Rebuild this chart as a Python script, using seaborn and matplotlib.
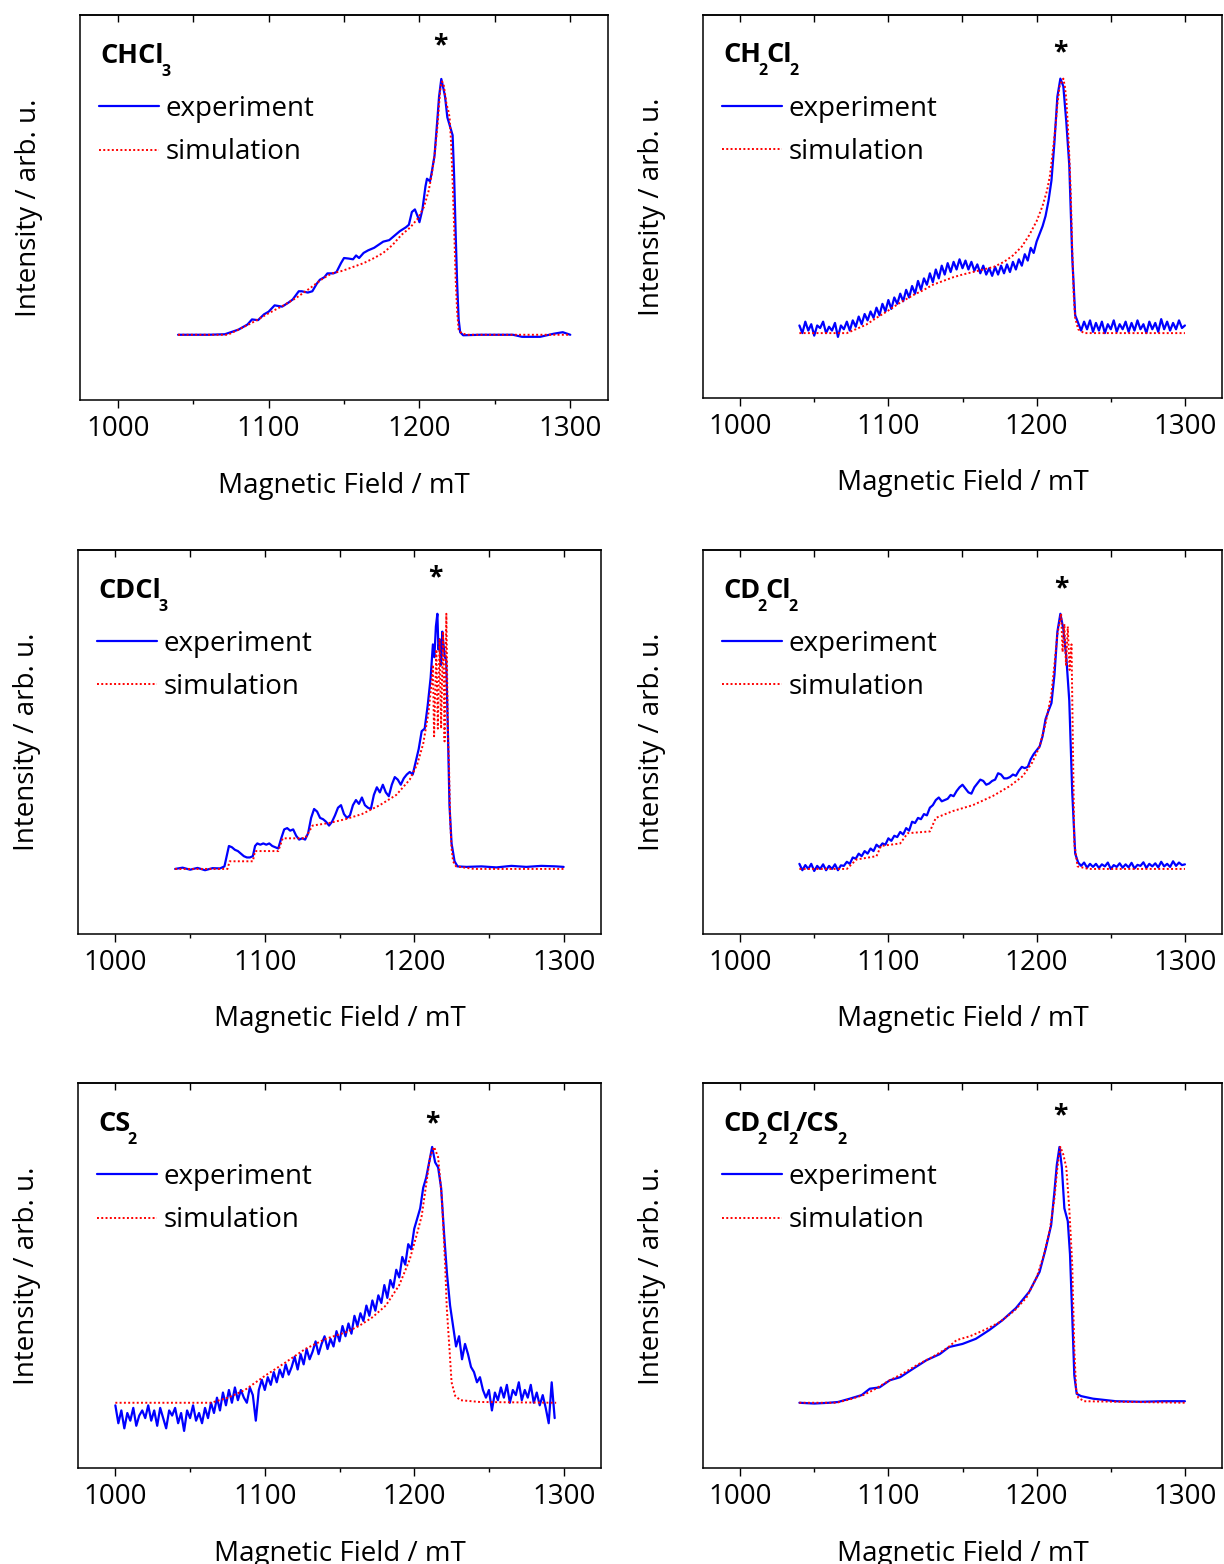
import numpy as np
import matplotlib
matplotlib.use("Agg")
import matplotlib.pyplot as plt
import matplotlib.transforms as mtransforms
import seaborn as sns

# ---------------- data (intensity normalised to peak = 1) ----------------
# CHCl3
chcl3_exp_x = [1040, 1060, 1071, 1080, 1086, 1089, 1093, 1097, 1100, 1104, 1109, 1113, 1116, 1120, 1122,
               1126, 1129, 1132, 1134, 1137, 1139, 1143, 1145, 1148, 1150, 1153, 1156, 1158, 1160, 1163,
               1166, 1170, 1173, 1176, 1180, 1183, 1187, 1191, 1193, 1195, 1197, 1199, 1200, 1202, 1204,
               1205, 1207, 1208, 1210, 1212, 1213, 1214.5, 1216, 1217, 1218.5, 1219.5, 1221, 1222, 1223,
               1224, 1225, 1226, 1227, 1229, 1240, 1250, 1262, 1268, 1280, 1289, 1295, 1300]
chcl3_exp_y = [0.0, 0.0, 0.002, 0.02, 0.04, 0.06, 0.057, 0.08, 0.09, 0.115, 0.11, 0.125, 0.138, 0.17, 0.17,
               0.165, 0.17, 0.2, 0.215, 0.225, 0.24, 0.24, 0.245, 0.28, 0.3, 0.298, 0.295, 0.31, 0.3, 0.32,
               0.33, 0.34, 0.352, 0.364, 0.37, 0.385, 0.405, 0.42, 0.43, 0.48, 0.49, 0.46, 0.44, 0.49, 0.58,
               0.61, 0.6, 0.63, 0.7, 0.85, 0.93, 1.0, 0.96, 0.93, 0.85, 0.83, 0.8, 0.78, 0.62,
               0.4, 0.2, 0.06, 0.01, -0.002, 0.0, 0.0, 0.0, -0.008, -0.008, 0.004, 0.01, 0.0]
chcl3_sim_x = [1040, 1073, 1082, 1090, 1100, 1110, 1118, 1127, 1136, 1142, 1149, 1156, 1163, 1170, 1176,
               1182, 1188, 1194, 1199, 1203, 1206, 1208, 1210, 1212, 1213, 1214, 1215, 1216, 1217, 1218,
               1219, 1220, 1221, 1222, 1223, 1224, 1225, 1226, 1228, 1232, 1300]
chcl3_sim_y = [0, 0, 0.026, 0.05, 0.084, 0.115, 0.143, 0.18, 0.22, 0.24, 0.25, 0.265, 0.28, 0.3, 0.32,
               0.35, 0.39, 0.42, 0.455, 0.5, 0.56, 0.62, 0.7, 0.82, 0.9, 0.97, 0.99, 0.98, 0.94, 0.9,
               0.88, 0.85, 0.75, 0.6, 0.42, 0.22, 0.09, 0.02, 0.005, 0.0, 0.0]

# CH2Cl2 experiment, sampled every 2 mT from 1040 to 1300
ch2cl2_exp_x = np.arange(1040, 1301, 2)
ch2cl2_exp_y = [0.03, 0.0, 0.045, 0.01, 0.035, -0.01, 0.03, 0.02, 0.045, 0.0,          # 1040
                0.025, 0.01, 0.04, -0.015, 0.03, 0.015, 0.045, 0.01, 0.05, 0.025,      # 1060
                0.065, 0.035, 0.075, 0.05, 0.085, 0.06, 0.1, 0.07, 0.115, 0.085,       # 1080
                0.13, 0.095, 0.14, 0.115, 0.155, 0.125, 0.17, 0.14, 0.185, 0.155,      # 1100
                0.205, 0.17, 0.215, 0.19, 0.235, 0.2, 0.25, 0.215, 0.265, 0.23,        # 1120
                0.275, 0.24, 0.28, 0.25, 0.29, 0.255, 0.285, 0.25, 0.28, 0.245,        # 1140
                0.27, 0.235, 0.265, 0.23, 0.255, 0.225, 0.26, 0.23, 0.265, 0.235,      # 1160
                0.27, 0.24, 0.28, 0.25, 0.29, 0.265, 0.31, 0.285, 0.335, 0.315,        # 1180
                0.36, 0.39, 0.42, 0.46, 0.52, 0.6, 0.75, 0.93, 1.0, 0.97,              # 1200
                0.83, 0.66, 0.3, 0.07, 0.04, 0.01, 0.045, 0.015, 0.05, 0.005,          # 1220
                0.04, 0.01, 0.045, 0.0, 0.035, 0.015, 0.05, 0.005, 0.035, 0.015,       # 1240
                0.045, 0.005, 0.04, 0.01, 0.05, 0.015, 0.035, 0.0, 0.045, 0.015,       # 1260
                0.04, 0.005, 0.055, 0.015, 0.045, 0.01, 0.04, 0.015, 0.05, 0.02,       # 1280
                0.03]                                                                  # 1300
ch2cl2_sim_x = [1040, 1072, 1078, 1085, 1092, 1099, 1108, 1117, 1124, 1130, 1137, 1144, 1150, 1157, 1164,
                1171, 1178, 1184, 1190, 1195, 1200, 1204, 1207, 1209, 1211, 1212.5, 1214, 1215.5, 1217,
                1218, 1219, 1220, 1221, 1222, 1223, 1224, 1225, 1226, 1228, 1232, 1300]
ch2cl2_sim_y = [0, 0, 0.015, 0.033, 0.06, 0.085, 0.12, 0.15, 0.17, 0.19, 0.205, 0.22, 0.23, 0.24, 0.25,
                0.26, 0.28, 0.305, 0.34, 0.385, 0.44, 0.5, 0.56, 0.62, 0.72, 0.8, 0.9, 0.97, 0.99,
                1.0, 0.97, 0.92, 0.82, 0.7, 0.55, 0.33, 0.15, 0.06, 0.015, 0.0, 0.0]

# CDCl3
cdcl3_exp_x = [1040, 1045, 1050, 1055, 1060, 1065, 1070, 1073, 1074.5, 1076, 1078, 1080, 1082, 1084, 1086,
               1088, 1090, 1092, 1093.5, 1095, 1097, 1099, 1101, 1103, 1105, 1107, 1109, 1111, 1113, 1115,
               1117, 1119, 1121, 1123, 1125, 1127, 1129, 1131, 1133, 1135, 1137, 1139, 1141, 1143, 1145,
               1147, 1149, 1151, 1153, 1155, 1157, 1159, 1161, 1163, 1165, 1167, 1169, 1171, 1173, 1175,
               1177, 1179, 1181, 1183, 1185, 1187, 1189, 1191, 1193, 1195, 1197, 1199, 1201, 1203, 1205,
               1207, 1209, 1211, 1212.5, 1213.5, 1214.5, 1215.5, 1216.2, 1217, 1218, 1218.8, 1219.6,
               1220.5, 1221.4, 1222.5, 1223.6, 1225, 1227, 1229, 1235, 1245, 1255, 1265, 1275, 1285,
               1295, 1300]
cdcl3_exp_y = [0.0, 0.005, -0.003, 0.004, -0.005, 0.003, 0.002, 0.01, 0.05, 0.09, 0.085, 0.075, 0.07, 0.06,
               0.05, 0.045, 0.045, 0.05, 0.09, 0.1, 0.095, 0.1, 0.095, 0.1, 0.09, 0.085, 0.08, 0.12, 0.155,
               0.16, 0.15, 0.155, 0.13, 0.115, 0.12, 0.115, 0.14, 0.2, 0.235, 0.225, 0.2, 0.195, 0.185,
               0.17, 0.185, 0.21, 0.24, 0.25, 0.215, 0.2, 0.21, 0.25, 0.27, 0.255, 0.28, 0.25, 0.24,
               0.235, 0.29, 0.32, 0.3, 0.33, 0.3, 0.285, 0.33, 0.36, 0.35, 0.33, 0.355, 0.37, 0.38,
               0.37, 0.42, 0.47, 0.54, 0.55, 0.64, 0.75, 0.88, 0.83, 0.95, 1.0, 0.86, 0.9, 0.8, 0.93,
               0.88, 0.83, 0.82, 0.55, 0.25, 0.1, 0.03, 0.01, 0.008, 0.01, 0.006, 0.012, 0.008, 0.012,
               0.01, 0.008]
cdcl3_sim_x = [1040, 1075, 1076.5, 1092, 1093.5, 1109, 1112, 1127, 1132, 1143, 1154, 1165, 1177, 1188,
               1197, 1202, 1206, 1209.5, 1211.5, 1212.5, 1213.3, 1214.8, 1215.8, 1217, 1218, 1219.3,
               1220.3, 1221.5, 1222.5, 1223.3, 1224, 1225, 1226, 1228, 1240, 1300]
cdcl3_sim_y = [0, 0, 0.03, 0.03, 0.07, 0.07, 0.12, 0.12, 0.17, 0.18, 0.195, 0.215, 0.25, 0.29,
               0.35, 0.41, 0.49, 0.61, 0.72, 0.8, 0.52, 0.86, 0.55, 0.9, 0.55, 0.93,
               0.5, 1.0, 0.55, 0.4, 0.2, 0.08, 0.03, 0.01, 0.0, 0.0]

# CD2Cl2 experiment, sampled every 2 mT from 1040 to 1300
cd2cl2_exp_x = np.arange(1040, 1301, 2)
cd2cl2_exp_y = [0.02, -0.005, 0.015, 0.0, 0.02, -0.008, 0.012, 0.0, 0.018, -0.005,             # 1040
                0.012, 0.0, 0.018, -0.005, 0.014, 0.012, 0.028, 0.02, 0.045, 0.04,             # 1060
                0.06, 0.05, 0.07, 0.06, 0.08, 0.07, 0.095, 0.085, 0.1, 0.095,                  # 1080
                0.12, 0.11, 0.13, 0.125, 0.145, 0.135, 0.16, 0.15, 0.185, 0.18,                # 1100
                0.2, 0.195, 0.215, 0.21, 0.24, 0.25, 0.27, 0.28, 0.265, 0.27,                  # 1120
                0.275, 0.29, 0.285, 0.305, 0.32, 0.33, 0.315, 0.3, 0.295, 0.32,                # 1140
                0.335, 0.35, 0.345, 0.33, 0.335, 0.345, 0.35, 0.375, 0.37, 0.355,              # 1160
                0.355, 0.36, 0.37, 0.365, 0.385, 0.4, 0.395, 0.4, 0.43, 0.45,                  # 1180
                0.465, 0.48, 0.52, 0.587, 0.62, 0.65, 0.76, 0.93, 1.0, 0.94,                   # 1200
                0.83, 0.66, 0.3, 0.06, 0.025, 0.012, 0.025, 0.005, 0.02, 0.008,                # 1220
                0.02, 0.004, 0.018, 0.01, 0.025, 0.0, 0.015, 0.008, 0.022, 0.005,              # 1240
                0.018, 0.006, 0.024, 0.002, 0.016, 0.012, 0.026, 0.004, 0.02, 0.01,            # 1260
                0.022, 0.006, 0.028, 0.01, 0.02, 0.008, 0.03, 0.012, 0.025, 0.015,             # 1280
                0.018]                                                                         # 1300
cd2cl2_sim_x = [1040, 1072, 1078.5, 1092, 1095, 1108, 1113, 1128, 1132, 1143.6, 1157, 1170.5, 1182,
                1190.7, 1197, 1202, 1206, 1209.8, 1212, 1214, 1216.5, 1217.5, 1218.7, 1219.8, 1221,
                1222.2, 1223.5, 1224.3, 1225.4, 1227.6, 1235, 1300]
cd2cl2_sim_y = [0, 0, 0.037, 0.05, 0.09, 0.1, 0.14, 0.147, 0.2, 0.227, 0.25, 0.286, 0.325,
                0.364, 0.417, 0.48, 0.57, 0.68, 0.8, 0.92, 1.0, 0.85, 0.96, 0.8, 0.95,
                0.78, 0.88, 0.55, 0.1, 0.01, 0.0, 0.0]

# CS2 experiment, sampled every 2 mT from 1000 to 1294
cs2_exp_x = np.arange(1000, 1295, 2)
cs2_exp_y = [-0.01, -0.08, -0.03, -0.1, -0.04, -0.07, -0.02, -0.09, -0.05, -0.03,      # 1000
             -0.06, -0.01, -0.07, -0.03, -0.09, -0.02, -0.06, -0.1, -0.03, -0.05,      # 1020
             -0.02, -0.08, -0.04, -0.11, -0.03, -0.06, -0.01, -0.07, -0.04, -0.08,     # 1040
             -0.02, -0.06, 0.0, -0.04, 0.02, -0.03, 0.04, -0.01, 0.05, 0.0,            # 1060
             0.06, 0.01, 0.05, 0.02, 0.0, 0.06, 0.03, -0.07, 0.05, 0.09,               # 1080
             0.05, 0.1, 0.07, 0.12, 0.08, 0.13, 0.1, 0.15, 0.11, 0.14,                 # 1100
             0.18, 0.13, 0.19, 0.15, 0.21, 0.17, 0.2, 0.24, 0.19, 0.23,                # 1120
             0.26, 0.21, 0.25, 0.22, 0.28, 0.24, 0.3, 0.26, 0.31, 0.27,                # 1140
             0.34, 0.3, 0.35, 0.32, 0.38, 0.34, 0.4, 0.36, 0.42, 0.39,                 # 1160
             0.46, 0.41, 0.48, 0.45, 0.52, 0.49, 0.57, 0.54, 0.62, 0.6,                # 1180
             0.68, 0.72, 0.76, 0.84, 0.88, 0.94, 1.0, 0.94, 0.92, 0.84,                # 1200
             0.66, 0.5, 0.38, 0.3, 0.22, 0.26, 0.17, 0.23, 0.19, 0.14,                 # 1220
             0.12, 0.08, 0.1, 0.05, 0.02, 0.05, -0.03, 0.04, 0.01, 0.06,               # 1240
             0.02, 0.07, 0.0, 0.05, 0.03, 0.08, 0.01, 0.05, 0.02, 0.07,                # 1260
             0.0, 0.04, -0.01, 0.03, -0.02, -0.08, 0.08, -0.06]                        # 1280
cs2_sim_x = [1000, 1064, 1075.5, 1086.7, 1100, 1113.7, 1127, 1140.8, 1154, 1163, 1172, 1181, 1190, 1197,
             1201.6, 1205, 1208.3, 1210.6, 1213.3, 1216, 1218.5, 1220.7, 1221.8, 1223.6, 1225, 1227.5,
             1231, 1244, 1295]
cs2_sim_y = [0, 0, 0.02, 0.05, 0.105, 0.157, 0.21, 0.25, 0.275, 0.3, 0.334, 0.38, 0.46, 0.56,
             0.655, 0.73, 0.865, 0.96, 1.0, 0.96, 0.8, 0.54, 0.37, 0.21, 0.08, 0.026,
             0.01, 0.003, 0.0]

# CD2Cl2/CS2
mix_exp_x = [1040, 1050, 1060, 1066, 1074, 1082, 1087.5, 1094, 1101, 1108, 1116.7, 1125.6, 1134.6, 1141,
             1150, 1159, 1168, 1177, 1186, 1195, 1202, 1206, 1209.8, 1212, 1213.6, 1215.4, 1217, 1218.7,
             1221, 1222.5, 1224, 1225.4, 1227, 1230, 1238, 1253.5, 1270, 1285, 1300]
mix_exp_y = [0, -0.003, 0.0, 0.003, 0.016, 0.03, 0.055, 0.06, 0.088, 0.1, 0.133, 0.166, 0.19, 0.218,
             0.23, 0.25, 0.284, 0.323, 0.37, 0.434, 0.512, 0.6, 0.695, 0.826, 0.93, 1.0, 0.92, 0.76,
             0.71, 0.58, 0.34, 0.107, 0.035, 0.026, 0.016, 0.006, 0.004, 0.006, 0.006]
mix_sim_x = [1040, 1065, 1075, 1083, 1090, 1100, 1110, 1120, 1130, 1140, 1146, 1155, 1165, 1175, 1185,
             1193, 1200, 1205, 1209, 1212, 1214, 1216, 1218, 1220, 1222, 1224, 1225.4, 1226.6, 1228,
             1232, 1300]
mix_sim_y = [0, 0, 0.015, 0.03, 0.05, 0.085, 0.115, 0.15, 0.18, 0.215, 0.245, 0.26, 0.285, 0.315, 0.36,
             0.41, 0.49, 0.58, 0.68, 0.8, 0.92, 1.0, 0.97, 0.92, 0.76, 0.54, 0.21, 0.055, 0.02,
             0.006, 0.0]

# formula pieces: (text, is_subscript)
titles = [
    [("CHCl", False), ("3", True)],
    [("CH", False), ("2", True), ("Cl", False), ("2", True)],
    [("CDCl", False), ("3", True)],
    [("CD", False), ("2", True), ("Cl", False), ("2", True)],
    [("CS", False), ("2", True)],
    [("CD", False), ("2", True), ("Cl", False), ("2", True), ("/CS", False), ("2", True)],
]
series = [
    (chcl3_exp_x, chcl3_exp_y, chcl3_sim_x, chcl3_sim_y),
    (ch2cl2_exp_x, ch2cl2_exp_y, ch2cl2_sim_x, ch2cl2_sim_y),
    (cdcl3_exp_x, cdcl3_exp_y, cdcl3_sim_x, cdcl3_sim_y),
    (cd2cl2_exp_x, cd2cl2_exp_y, cd2cl2_sim_x, cd2cl2_sim_y),
    (cs2_exp_x, cs2_exp_y, cs2_sim_x, cs2_sim_y),
    (mix_exp_x, mix_exp_y, mix_sim_x, mix_sim_y),
]

# ---------------- layout ----------------
W, H = 1224, 1564
# panel frames in pixels: left, top, right, bottom
frames = [(80, 15, 608, 400), (703, 15, 1222, 398),
          (78, 550, 601, 934), (703, 550, 1222, 934),
          (78, 1083, 601, 1468), (703, 1083, 1222, 1468)]
# asterisk marker (field, height) per panel
stars = [(1213.7, 1.1), (1216, 1.07), (1214.4, 1.112), (1216.7, 1.07), (1212.3, 1.062), (1216, 1.092)]

sns.set_style("white")
plt.rcParams['font.family'] = ['Open Sans', 'DejaVu Sans']
plt.rcParams['axes.edgecolor'] = 'black'
plt.rcParams['axes.linewidth'] = 1.1
plt.rcParams['xtick.color'] = 'black'
plt.rcParams['text.color'] = 'black'
plt.rcParams['axes.labelcolor'] = 'black'

FS = 20

fig = plt.figure(figsize=(W / 100, H / 100), dpi=100)
renderer = fig.canvas.get_renderer()


def draw_formula(ax, x, y, parts):
    # bold chemical formula with lowered subscripts, drawn piece by piece
    dx = 0.0
    for s, sub in parts:
        tr = mtransforms.offset_copy(ax.transAxes, fig=fig, x=dx, y=-13 if sub else 0, units='dots')
        t = ax.text(x, y, s, transform=tr, fontsize=11.5 if sub else 19.5, fontweight='bold',
                    ha='left', va='baseline')
        dx += t.get_window_extent(renderer=renderer).width - (1.5 if sub else 2.5)


for i, (l, t, r, b) in enumerate(frames):
    ax = fig.add_axes([l / W, 1 - b / H, (r - l) / W, (b - t) / H])
    ex, ey, sx, sy = series[i]
    sns.lineplot(x=ex, y=ey, ax=ax, color='#0000ff', lw=1.6, label='experiment',
                 sort=False, estimator=None)
    sns.lineplot(x=sx, y=sy, ax=ax, color='#ff0000', lw=1.4, ls=(0, (1, 1.2)), label='simulation',
                 sort=False, estimator=None)

    ax.set_xlim(975, 1325)
    ax.set_ylim(-0.255, 1.25)
    ax.set_xticks([1000, 1100, 1200, 1300])
    ax.set_xticks([1050, 1150, 1250], minor=True)
    ax.set_yticks([])
    ax.tick_params(axis='x', which='major', direction='out', length=5.8, width=1.0,
                   bottom=True, top=False, labelsize=FS, pad=4.8)
    ax.tick_params(axis='x', which='minor', direction='out', length=3, width=1.0, bottom=True, top=False)
    top = ax.secondary_xaxis('top')
    top.set_xticks([1000, 1100, 1200, 1300])
    top.set_xticks([1050, 1150, 1250], minor=True)
    top.tick_params(axis='x', which='both', direction='in', length=5, width=1.0, labeltop=False)
    top.spines['top'].set_linewidth(1.1)

    ax.set_xlabel('Magnetic Field / mT', fontsize=FS)
    ax.set_ylabel('Intensity / arb. u.', fontsize=FS)
    ax.xaxis.set_label_coords(0.5, -0.186)
    ax.yaxis.set_label_coords(-37 / (r - l), 0.5)

    ax.legend(loc='upper left', bbox_to_anchor=(19 / (r - l), 0.792), frameon=False, fontsize=FS,
              handlelength=2.16, handletextpad=0.25, labelspacing=0.55, borderpad=0, borderaxespad=0)

    draw_formula(ax, 20 / (r - l), 0.876, titles[i])
    ax.text(stars[i][0], stars[i][1], '*', fontsize=19, fontweight='bold', ha='center', va='baseline')

fig.savefig('out.png', dpi=100)
